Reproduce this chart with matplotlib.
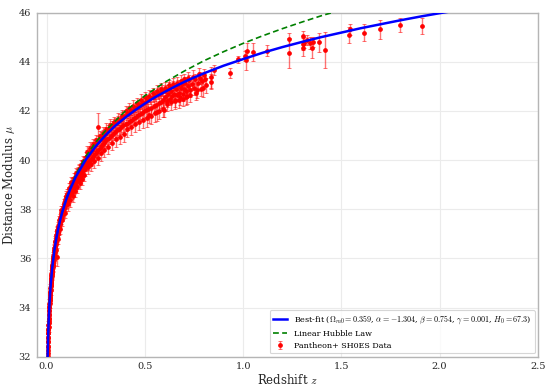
import matplotlib
matplotlib.use("Agg")
import matplotlib.pyplot as plt

plt.rcParams['font.family'] = ['DejaVu Serif']
plt.rcParams['mathtext.fontset'] = 'cm'

# ---------------- data ----------------
z_data = [
    # z 0.005-0.01
    0.0058, 0.0061, 0.0064, 0.0068, 0.0071, 0.0074, 0.0077, 0.0080, 0.0083, 0.0086, 0.0090, 0.0093, 0.0096, 0.0099,
    # z 0.01-0.02
    0.0103, 0.0107, 0.0111, 0.0115, 0.0119, 0.0124, 0.0128, 0.0132, 0.0137, 0.0141, 0.0146, 0.0150, 0.0155, 0.0160,
    0.0164, 0.0169, 0.0174, 0.0179, 0.0184, 0.0189, 0.0194, 0.0198,
    # z 0.02-0.04
    0.0204, 0.0209, 0.0214, 0.0219, 0.0224, 0.0229, 0.0235, 0.0240, 0.0246, 0.0252, 0.0258, 0.0264, 0.0270, 0.0276,
    0.0282, 0.0289, 0.0295, 0.0302, 0.0309, 0.0316, 0.0323, 0.0330, 0.0338, 0.0345, 0.0353, 0.0361, 0.0369, 0.0377,
    0.0385, 0.0393,
    0.0217, 0.0243, 0.0268, 0.0292, 0.0318, 0.0342, 0.0372, 0.0398,
    # z 0.04-0.1
    0.0405, 0.0415, 0.0425, 0.0435, 0.0445, 0.0455, 0.0465, 0.0475, 0.0485, 0.0495, 0.0505, 0.0515, 0.0525, 0.0535,
    0.0550, 0.0545, 0.0560, 0.0575, 0.0590, 0.0605, 0.0620, 0.0635, 0.0650, 0.0665, 0.0680, 0.0695, 0.0710, 0.0725,
    0.0740, 0.0760, 0.0780, 0.0800, 0.0820, 0.0840, 0.0860, 0.0880, 0.0900, 0.0920, 0.0940, 0.0960, 0.0980,
    0.042, 0.047, 0.052, 0.058, 0.063, 0.069, 0.075, 0.081, 0.087, 0.093, 0.099,
    # z 0.1-0.2
    0.101, 0.104, 0.107, 0.110, 0.113, 0.116, 0.119, 0.122, 0.125, 0.128, 0.131, 0.134, 0.137, 0.140, 0.143, 0.146,
    0.149, 0.152, 0.155, 0.158, 0.161, 0.164, 0.167, 0.170, 0.173, 0.176, 0.179, 0.182, 0.185, 0.188, 0.191, 0.194,
    0.197,
    0.103, 0.109, 0.115, 0.121, 0.127, 0.133, 0.139, 0.145, 0.151, 0.157, 0.163, 0.169, 0.175, 0.181, 0.187, 0.193,
    0.199,
    # z 0.2-0.4
    0.202, 0.206, 0.210, 0.214, 0.218, 0.222, 0.226, 0.230, 0.234, 0.238, 0.242, 0.246, 0.250, 0.254, 0.258, 0.262,
    0.264, 0.268, 0.272, 0.276, 0.280, 0.284, 0.288, 0.292, 0.296, 0.300, 0.305, 0.310, 0.315, 0.320, 0.325, 0.330,
    0.335, 0.340, 0.345, 0.350, 0.355, 0.360, 0.365, 0.370, 0.375, 0.380, 0.385, 0.390, 0.395,
    0.204, 0.212, 0.220, 0.228, 0.236, 0.244, 0.252, 0.260, 0.270, 0.278, 0.286, 0.294, 0.302, 0.312, 0.322, 0.332,
    0.342, 0.352, 0.362, 0.372, 0.382, 0.392,
    # z 0.4-0.6
    0.405, 0.410, 0.415, 0.420, 0.425, 0.430, 0.435, 0.440, 0.445, 0.450, 0.455, 0.460, 0.465, 0.470, 0.475, 0.480,
    0.485, 0.490, 0.495, 0.500, 0.505, 0.510, 0.515, 0.520, 0.525, 0.530, 0.540, 0.545, 0.550, 0.555, 0.560, 0.565,
    0.570, 0.575, 0.580, 0.590, 0.595, 0.600,
    0.402, 0.412, 0.422, 0.432, 0.442, 0.452, 0.462, 0.472, 0.482, 0.492, 0.502, 0.512, 0.522, 0.532, 0.542, 0.552,
    0.562, 0.572, 0.582, 0.592,
    # z 0.6-0.82
    0.605, 0.610, 0.615, 0.620, 0.625, 0.630, 0.635, 0.640, 0.645, 0.650, 0.655, 0.660, 0.665, 0.670, 0.675, 0.680,
    0.685, 0.690, 0.695, 0.700, 0.705, 0.710, 0.715, 0.720, 0.725, 0.730, 0.740, 0.750, 0.755, 0.760, 0.770, 0.780,
    0.785, 0.790, 0.796, 0.800, 0.810,
    0.602, 0.612, 0.622, 0.632, 0.642, 0.652, 0.662, 0.672, 0.682, 0.692, 0.702, 0.712, 0.722, 0.732, 0.745, 0.765,
    0.775, 0.805,
    # sparse high-z
    0.837, 0.838, 0.850, 0.935, 0.972, 1.010, 1.016, 1.022, 1.050, 1.120, 1.234, 1.235, 1.303, 1.306, 1.310, 1.303,
    1.327, 1.340, 1.354, 1.350, 1.387, 1.416, 1.543, 1.540, 1.614, 1.695, 1.800, 1.912, 2.260,
]
mu_data = [
    32.02, 32.28, 32.15, 32.42, 32.58, 32.40, 32.75, 32.62, 32.95, 32.82, 33.10, 32.95, 33.28, 33.12,
    33.38, 33.22, 33.55, 33.45, 33.72, 33.58, 33.85, 33.70, 34.02, 33.88, 34.15, 34.02, 34.30, 34.18,
    34.42, 34.30, 34.55, 34.40, 34.65, 34.52, 34.80, 34.65,
    34.92, 34.72, 35.02, 34.88, 35.15, 35.00, 35.28, 35.10, 35.35, 35.20, 35.48, 35.30, 35.55, 35.40,
    35.65, 35.50, 35.75, 35.58, 35.82, 35.65, 35.92, 35.75, 36.00, 35.85, 36.10, 35.95, 36.18, 36.05,
    36.30, 36.15,
    35.15, 34.98, 35.68, 35.38, 35.98, 35.72, 36.35, 36.05,
    36.42, 36.25, 36.50, 36.38, 36.65, 36.48, 36.72, 36.58, 36.85, 36.70, 36.95, 36.80, 37.02, 36.88,
    36.05, 37.10, 36.98, 37.22, 37.08, 37.32, 37.18, 37.42, 37.28, 37.55, 37.38, 37.65, 37.48, 37.72,
    37.58, 37.85, 37.70, 37.98, 37.82, 38.05, 37.92, 38.18, 38.02, 38.28, 38.12, 38.38, 38.22,
    36.70, 36.35, 37.15, 36.80, 37.55, 37.20, 37.95, 37.55, 38.25, 37.85, 38.55,
    38.48, 38.30, 38.60, 38.42, 38.72, 38.50, 38.85, 38.62, 38.95, 38.70, 39.05, 38.82, 39.12, 38.90, 39.25, 39.00,
    39.35, 39.10, 39.42, 39.18, 39.50, 39.25, 39.60, 39.35, 39.68, 39.42, 39.75, 39.50, 39.82, 39.58, 39.90, 39.62,
    39.98,
    38.62, 38.20, 38.88, 38.38, 39.10, 38.55, 39.28, 38.75, 39.48, 38.92, 39.65, 39.08, 39.80, 39.25, 39.95, 39.40,
    40.12,
    39.80, 40.18, 39.88, 40.26, 39.96, 40.35, 40.05, 40.42, 40.13, 40.52, 40.22, 40.60, 40.30, 40.68, 40.38, 41.36,
    40.78, 40.47, 40.85, 40.55, 40.92, 40.62, 41.00, 40.70, 41.06, 40.76, 41.14, 40.84, 41.22, 40.92, 41.30, 41.00,
    41.37, 41.07, 41.45, 41.15, 41.52, 41.22, 41.58, 41.28, 41.65, 41.35, 41.72, 41.42, 41.78,
    40.35, 39.70, 40.48, 39.85, 40.65, 39.98, 40.80, 40.10, 40.98, 40.28, 41.12, 40.42, 41.28, 40.55, 41.42, 40.70,
    41.55, 40.85, 41.68, 40.95, 41.80, 41.05,
    41.45, 41.87, 41.52, 41.93, 41.58, 41.98, 41.64, 42.05, 41.70, 42.11, 41.76, 42.16, 41.82, 42.22, 41.87, 42.27,
    41.93, 42.33, 41.98, 42.38, 42.03, 42.43, 42.08, 41.85, 42.51, 42.13, 42.58, 42.20, 42.63, 42.25, 41.95, 42.70,
    42.32, 42.75, 42.38, 42.82, 42.45, 42.05,
    42.00, 41.25, 42.12, 41.35, 42.22, 41.45, 42.32, 41.55, 42.45, 41.62, 42.55, 41.70, 42.62, 41.80, 42.72, 41.90,
    42.82, 42.00, 42.90, 42.10,
    42.55, 42.85, 42.40, 42.70, 42.95, 42.50, 42.80, 42.60, 43.00, 42.70, 42.45, 42.90, 42.65, 43.05, 42.75, 42.55,
    42.95, 43.10, 42.70, 42.90, 43.15, 42.80, 42.60, 43.00, 43.25, 42.85, 43.10, 42.95, 43.30, 42.75, 43.15, 43.35,
    42.90, 43.20, 42.92, 43.45, 43.05,
    42.95, 42.30, 43.05, 42.35, 43.10, 42.40, 43.15, 42.45, 43.20, 42.50, 43.30, 42.55, 43.35, 42.65, 43.40, 42.85,
    43.50, 43.30,
    43.19, 43.37, 43.67, 43.56, 44.10, 44.24, 44.08, 44.45, 44.41, 44.45, 44.35, 44.92, 45.05, 44.73, 44.78, 44.55,
    44.89, 44.78, 44.82, 44.55, 44.79, 44.48, 45.32, 45.09, 45.19, 45.32, 45.50, 45.46, 46.10,
]
err_data = [
    0.22, 0.18, 0.25, 0.20, 0.17, 0.24, 0.19, 0.22, 0.18, 0.21, 0.17, 0.23, 0.18, 0.20,
    0.17, 0.21, 0.18, 0.22, 0.16, 0.20, 0.18, 0.23, 0.17, 0.20, 0.18, 0.22, 0.16, 0.21,
    0.17, 0.20, 0.18, 0.22, 0.16, 0.20, 0.17, 0.21,
    0.16, 0.20, 0.17, 0.22, 0.15, 0.19, 0.16, 0.21, 0.17, 0.20, 0.15, 0.19, 0.16, 0.21,
    0.17, 0.20, 0.15, 0.19, 0.16, 0.21, 0.17, 0.20, 0.16, 0.19, 0.17, 0.21, 0.16, 0.20,
    0.17, 0.19,
    0.18, 0.22, 0.18, 0.22, 0.18, 0.22, 0.18, 0.22,
    0.16, 0.20, 0.17, 0.21, 0.16, 0.19, 0.17, 0.20, 0.16, 0.19, 0.17, 0.21, 0.16, 0.20,
    0.36, 0.17, 0.20, 0.16, 0.19, 0.17, 0.21, 0.16, 0.20, 0.17, 0.19, 0.16, 0.21, 0.17,
    0.20, 0.16, 0.19, 0.17, 0.21, 0.16, 0.20, 0.17, 0.19, 0.16, 0.21, 0.17, 0.20,
    0.20, 0.22, 0.18, 0.22, 0.18, 0.22, 0.18, 0.22, 0.18, 0.22, 0.18,
    0.20, 0.24, 0.21, 0.25, 0.20, 0.26, 0.21, 0.25, 0.20, 0.27, 0.21, 0.24, 0.20, 0.26, 0.21, 0.25,
    0.20, 0.27, 0.21, 0.24, 0.20, 0.26, 0.21, 0.25, 0.20, 0.27, 0.21, 0.24, 0.20, 0.26, 0.21, 0.25,
    0.20,
    0.20, 0.26, 0.20, 0.27, 0.20, 0.27, 0.20, 0.27, 0.20, 0.27, 0.20, 0.27, 0.20, 0.27, 0.20, 0.27,
    0.20,
    0.25, 0.22, 0.27, 0.21, 0.26, 0.22, 0.28, 0.21, 0.26, 0.22, 0.27, 0.21, 0.28, 0.22, 0.26, 0.55,
    0.21, 0.27, 0.22, 0.26, 0.21, 0.28, 0.22, 0.26, 0.21, 0.27, 0.22, 0.26, 0.21, 0.28, 0.22, 0.26,
    0.21, 0.27, 0.22, 0.26, 0.21, 0.28, 0.22, 0.26, 0.21, 0.27, 0.22, 0.26, 0.21,
    0.22, 0.28, 0.24, 0.30, 0.22, 0.30, 0.24, 0.30, 0.22, 0.32, 0.24, 0.30, 0.22, 0.32, 0.24, 0.30,
    0.22, 0.32, 0.24, 0.30, 0.22, 0.32,
    0.27, 0.22, 0.28, 0.21, 0.27, 0.22, 0.28, 0.21, 0.27, 0.22, 0.28, 0.21, 0.27, 0.22, 0.28, 0.21,
    0.27, 0.22, 0.28, 0.21, 0.27, 0.22, 0.28, 0.32, 0.21, 0.27, 0.22, 0.28, 0.21, 0.27, 0.35, 0.22,
    0.28, 0.21, 0.27, 0.22, 0.28, 0.30,
    0.22, 0.32, 0.22, 0.32, 0.24, 0.32, 0.22, 0.32, 0.24, 0.32, 0.22, 0.34, 0.24, 0.32, 0.22, 0.34,
    0.24, 0.32, 0.22, 0.34,
    0.22, 0.20, 0.25, 0.20, 0.22, 0.25, 0.20, 0.25, 0.20, 0.22, 0.30, 0.22, 0.25, 0.20, 0.25, 0.30,
    0.22, 0.22, 0.30, 0.25, 0.22, 0.28, 0.30, 0.25, 0.22, 0.30, 0.25, 0.28, 0.22, 0.30, 0.25, 0.25,
    0.30, 0.30, 0.35, 0.25, 0.30,
    0.22, 0.30, 0.22, 0.32, 0.24, 0.30, 0.22, 0.32, 0.25, 0.30, 0.22, 0.32, 0.25, 0.30, 0.25, 0.32,
    0.25, 0.30,
    0.30, 0.42, 0.20, 0.20, 0.15, 0.20, 0.40, 0.30, 0.36, 0.22, 0.61, 0.25, 0.20, 0.25, 0.22, 0.30,
    0.22, 0.25, 0.20, 0.40, 0.39, 0.73, 0.22, 0.32, 0.34, 0.39, 0.27, 0.34, 0.12,
]

# best-fit model curve
z_fit = [0.001, 0.002, 0.003, 0.004, 0.005, 0.006, 0.008, 0.01, 0.012, 0.015, 0.02, 0.025, 0.03, 0.04, 0.05,
         0.06, 0.07, 0.08, 0.1, 0.12, 0.15, 0.2, 0.25, 0.3, 0.35, 0.4, 0.45, 0.5, 0.55, 0.6, 0.65, 0.7, 0.75,
         0.8, 0.9, 1.0, 1.1, 1.2, 1.3, 1.4, 1.5, 1.6, 1.7, 1.8, 1.9, 2.0, 2.1, 2.2, 2.3]
mu_fit = [28.25, 29.75, 30.64, 31.26, 31.75, 32.14, 32.77, 33.26, 33.66, 34.15, 34.78, 35.27, 35.68, 36.32, 36.82,
          37.23, 37.58, 37.88, 38.39, 38.81, 39.34, 40.02, 40.56, 41.01, 41.40, 41.73, 42.03, 42.30, 42.55, 42.77,
          42.98, 43.18, 43.36, 43.53, 43.84, 44.11, 44.37, 44.60, 44.81, 45.01, 45.19, 45.37, 45.53, 45.69, 45.84,
          45.98, 46.11, 46.24, 46.36]

# linear Hubble law curve
z_lin = [0.001, 0.002, 0.003, 0.005, 0.008, 0.01, 0.015, 0.02, 0.03, 0.04, 0.05, 0.07, 0.1, 0.15, 0.2, 0.25,
         0.3, 0.4, 0.5, 0.6, 0.7, 0.8, 0.9, 1.0, 1.1, 1.2, 1.3, 1.4, 1.5, 1.6]
mu_lin = [28.25, 29.75, 30.64, 31.75, 32.78, 33.27, 34.16, 34.79, 35.69, 36.34, 36.85, 37.62, 38.45, 39.43,
          40.15, 40.72, 41.20, 41.99, 42.62, 43.16, 43.62, 44.04, 44.41, 44.75, 45.06, 45.35, 45.62, 45.88,
          46.11, 46.34]

x_ticks = [0.0, 0.5, 1.0, 1.5, 2.0, 2.5]
y_ticks = [32, 34, 36, 38, 40, 42, 44, 46]

fit_label = (r'Best-fit ($\Omega_{m0}=0.359$, $\alpha=-1.304$, $\beta=0.754$, '
             r'$\gamma=0.001$, $H_0=67.3$)')

# ---------------- figure ----------------
fig = plt.figure(figsize=(5.5, 3.88), dpi=100)
ax = fig.add_axes([0.0667, 0.0807, 0.9113, 0.8866])

ax.errorbar(z_data, mu_data, yerr=err_data, fmt='o', color='red', ms=2.4,
            ecolor=(1.0, 0.0, 0.0, 0.55), elinewidth=1.0, capsize=1.6, capthick=0.7,
            label='Pantheon+ SH0ES Data', zorder=2)
ax.plot(z_fit, mu_fit, color='blue', lw=1.8, label=fit_label, zorder=4)
ax.plot(z_lin, mu_lin, color='green', lw=1.2, ls='--', dashes=(3.5, 2), label='Linear Hubble Law', zorder=3)

ax.set_xlim(-0.05, 2.5)
ax.set_ylim(32, 46)
ax.set_xticks(x_ticks)
ax.set_yticks(y_ticks)
ax.tick_params(axis='both', length=0, labelsize=7, colors='#262626', pad=4)
ax.grid(True, color='#ebebeb', lw=0.8)
ax.set_axisbelow(True)
for s in ax.spines.values():
    s.set_color('#b5b5b5')
    s.set_linewidth(1.0)

ax.set_xlabel(r'Redshift $z$', fontsize=8.5, color='#262626', labelpad=1.5)
ax.set_ylabel(r'Distance Modulus $\mu$', fontsize=8.5, color='#262626', labelpad=1.5)

leg = ax.legend(loc='lower right', fontsize=5.8, frameon=True, fancybox=True,
                borderaxespad=0.4, handlelength=1.8)
leg.get_frame().set_edgecolor('#cccccc')
leg.get_frame().set_linewidth(0.8)

fig.savefig('out.png', dpi=100)
